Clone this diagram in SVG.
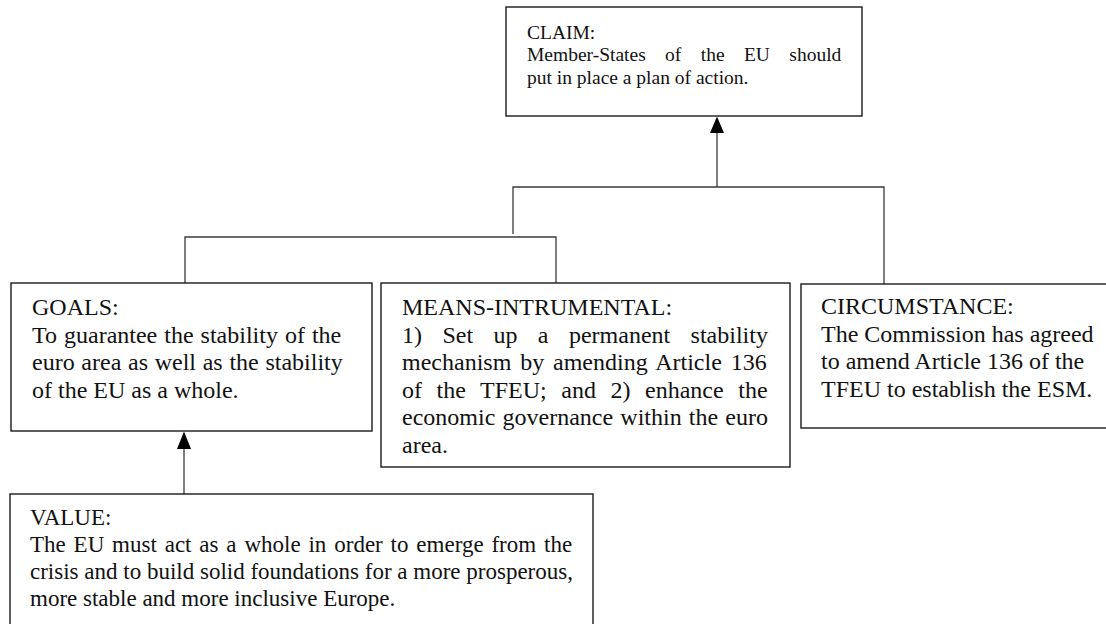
<svg xmlns="http://www.w3.org/2000/svg" width="1106" height="624" viewBox="0 0 1106 624">
  <style>
    .box { fill: #ffffff; stroke: #1a1a1a; stroke-width: 1.4; }
    .wire { fill: none; stroke: #3a3a3a; stroke-width: 1.3; }
    .head { fill: #000000; stroke: none; }
    text { font-family: "Liberation Serif", "Times New Roman", serif; fill: #111111; }
    .s20 { font-size: 19.5px; }
    .s24 { font-size: 24px; }
    .s23 { font-size: 23px; }
  </style>
  <rect width="1106" height="624" fill="#ffffff"/>

  <!-- connectors -->
  <g id="connectors">
    <path class="wire" d="M513,234 V187 H884 V284"/>
    <line class="wire" x1="717" y1="187" x2="717" y2="132"/>
    <polygon class="head" points="717,116.5 710,133 724,133"/>
    <path class="wire" d="M185,283 V237 H556 V283"/>
    <line class="wire" x1="184" y1="494" x2="184" y2="448"/>
    <polygon class="head" points="184,431.5 177,449 191,449"/>
  </g>

  <!-- claim -->
  <g id="claim">
    <rect class="box" x="506" y="7" width="356" height="109"/>
    <text class="s20" x="527" y="38.5">CLAIM:</text>
    <text class="s20" x="527" y="61" style="word-spacing:14.5px">Member-States of the EU should</text>
    <text class="s20" x="527" y="83.5">put in place a plan of action.</text>
  </g>

  <!-- goals -->
  <g id="goals">
    <rect class="box" x="11" y="283" width="361" height="148"/>
    <text class="s24" x="32" y="315">GOALS:</text>
    <text class="s24" x="32" y="342.6" style="word-spacing:1px">To guarantee the stability of the</text>
    <text class="s24" x="32" y="370.2" style="word-spacing:0.7px">euro area as well as the stability</text>
    <text class="s24" x="32" y="397.8">of the EU as a whole.</text>
  </g>

  <!-- means -->
  <g id="means">
    <rect class="box" x="381" y="283" width="409" height="184"/>
    <text class="s24" x="402" y="315">MEANS-INTRUMENTAL:</text>
    <text class="s24" x="402" y="342.6" style="word-spacing:14.4px">1) Set up a permanent stability</text>
    <text class="s24" x="402" y="370.2" style="word-spacing:2.85px">mechanism by amending Article 136</text>
    <text class="s24" x="402" y="397.8" style="word-spacing:8.57px">of the TFEU; and 2) enhance the</text>
    <text class="s24" x="402" y="425.4" style="word-spacing:1.2px">economic governance within the euro</text>
    <text class="s24" x="402" y="453">area.</text>
  </g>

  <!-- circumstance: runs past the right edge of the page -->
  <g id="circumstance">
    <rect class="box" x="801" y="284" width="330" height="144"/>
    <text class="s24" x="821" y="314">CIRCUMSTANCE:</text>
    <text class="s24" x="821" y="341.6">The Commission has agreed</text>
    <text class="s24" x="821" y="369.2">to amend Article 136 of the</text>
    <text class="s24" x="821" y="396.8">TFEU to establish the ESM.</text>
  </g>

  <!-- value: runs past the lower edge of the page -->
  <g id="value">
    <rect class="box" x="10" y="494" width="583" height="150"/>
    <text class="s23" x="30" y="525">VALUE:</text>
    <text class="s23" x="30" y="552" style="word-spacing:2.1px">The EU must act as a whole in order to emerge from the</text>
    <text class="s23" x="30" y="579">crisis and to build solid foundations for a more prosperous,</text>
    <text class="s23" x="30" y="606">more stable and more inclusive Europe.</text>
  </g>
</svg>
